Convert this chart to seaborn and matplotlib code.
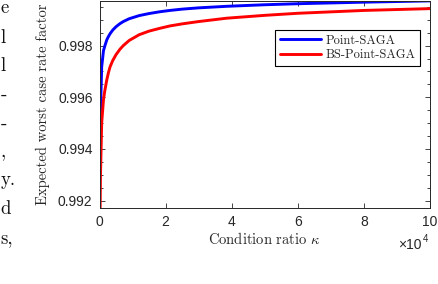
import numpy as np
import pandas as pd
import matplotlib
matplotlib.use("Agg")
import matplotlib.pyplot as plt
import seaborn as sns
from matplotlib.ticker import FixedLocator, FuncFormatter, MultipleLocator

# values
kappa = [100, 300, 660, 1200, 1600, 2200, 2700, 3200, 4000, 5000, 6200, 7200,
         9000, 12000, 15000, 18300, 21300, 25000, 30000, 38500, 50000, 60000,
         80000, 100000]
point_saga = [0.9939, 0.9955, 0.99718, 0.99780, 0.99798, 0.99822, 0.99835, 0.99846,
              0.99860, 0.99873, 0.99885, 0.99893, 0.99904, 0.99916, 0.99924,
              0.99931, 0.99936, 0.99941, 0.99946, 0.99952, 0.99958, 0.99962,
              0.99968, 0.99973]
bs_point_saga = [0.9905, 0.9930, 0.99501, 0.99590, 0.99625, 0.99667, 0.99695,
                 0.99718, 0.99742, 0.99765, 0.99786, 0.99800, 0.99820, 0.99842,
                 0.99856, 0.99867, 0.99876, 0.99884, 0.99893, 0.99906, 0.99917,
                 0.99925, 0.99936, 0.99943]
methods = ["Point-SAGA", "BS-Point-SAGA"]
colors = ["#0000ff", "#ff0000"]
x_ticks = [0, 20000, 40000, 60000, 80000, 100000]
y_ticks = [0.992, 0.994, 0.996, 0.998]

# fragments of the paper text cropped at the left edge
side_text = ["e", "l", "l", "-", "-", ",", "y.", "d", "s,"]
side_y = [8, 38, 66, 95, 124, 152, 180, 209, 238]

df = pd.concat([
    pd.DataFrame({"kappa": kappa, "rate": point_saga, "method": methods[0]}),
    pd.DataFrame({"kappa": kappa, "rate": bs_point_saga, "method": methods[1]}),
])

sns.set_style("white")
plt.rcParams["mathtext.fontset"] = "cm"
plt.rcParams["font.family"] = ["Liberation Sans", "DejaVu Sans"]

W, H = 438, 284
fig = plt.figure(figsize=(W / 100, H / 100), dpi=100)
ax = fig.add_axes([99.5 / W, 1 - 207.7 / H, 330.5 / W, 206.7 / H])

sns.lineplot(data=df, x="kappa", y="rate", hue="method", palette=colors,
             linewidth=2.1, ax=ax, legend=False)

ax.set_xlim(0, 100000)
ax.set_ylim(0.991729, 0.999725)
ax.xaxis.set_major_locator(FixedLocator(x_ticks))
ax.xaxis.set_major_formatter(FuncFormatter(lambda v, p: f"{v / 1e4:g}"))
ax.yaxis.set_major_locator(FixedLocator(y_ticks))
ax.yaxis.set_minor_locator(MultipleLocator(0.0005))
ax.yaxis.set_major_formatter(FuncFormatter(lambda v, p: f"{v:.3f}"))

edge = "#262626"
for s in ax.spines.values():
    s.set_visible(True)
    s.set_color(edge)
    s.set_linewidth(0.7)
ax.tick_params(which="both", direction="in", top=True, right=True,
               bottom=True, left=True, color=edge, width=0.6, labelcolor=edge,
               labelsize=10)
ax.tick_params(which="major", length=3.5, pad=5)
ax.tick_params(which="minor", length=2.2)

ax.set_xlabel(r"Condition ratio $\kappa$", family="cmr10", fontsize=10.5,
              color=edge, labelpad=2)
ax.set_ylabel("Expected worst case rate factor", family="cmr10", fontsize=10.5,
              color=edge, labelpad=6)

handles = [plt.Line2D([], [], color=c, linewidth=2.1) for c in colors]
leg = ax.legend(handles, methods, loc="upper right", bbox_to_anchor=(0.970, 0.862),
                frameon=True, fancybox=False, framealpha=1, edgecolor="#000000",
                prop={"family": "cmr10", "size": 9}, handlelength=3.3,
                handletextpad=0.3, labelspacing=0.2, borderpad=0.4,
                borderaxespad=0)
leg.get_frame().set_linewidth(0.8)

# exponent label under the x axis
fig.text(422 / W, 1 - 245 / H, "×10", ha="right", va="center", fontsize=10, color=edge)
fig.text(423 / W, 1 - 239 / H, "4", ha="left", va="center", fontsize=7, color=edge)

for t, y in zip(side_text, side_y):
    fig.text(0.5 / W, 1 - y / H, t, ha="left", va="center", family="cmr10",
             fontsize=13.5, color="#111111")

fig.savefig("out.png", dpi=100)
